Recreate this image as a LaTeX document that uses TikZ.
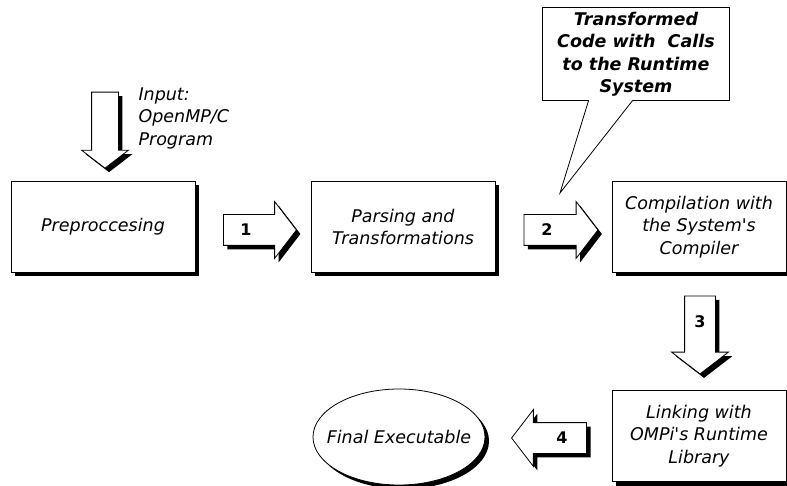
\documentclass[tikz,border=0pt]{standalone}
\usepackage{fontspec}
\setmainfont{DejaVu Sans}
\usetikzlibrary{shapes.arrows,shapes.geometric,shapes.callouts,shadows}
\tikzset{
  blackshadow/.style={drop shadow={fill=black,opacity=1,shadow xshift=4pt,shadow yshift=-4pt}},
  txt/.style={font=\fontsize{17.5}{22.5}\selectfont\itshape},
  stagebox/.style={draw,fill=white,line width=0.8pt,minimum width=184pt,minimum height=91pt,
    align=center,txt,inner sep=2pt,blackshadow},
  blockarrow/.style={single arrow,draw,fill=white,line width=0.8pt,inner sep=15pt,
    single arrow head extend=13pt,single arrow tip angle=105,blackshadow},
  num/.style={font=\fontsize{16}{18}\selectfont\bfseries,inner sep=0pt},
  oval/.style={ellipse,draw,fill=white,line width=0.8pt,minimum width=172pt,minimum height=96pt,
    txt,inner sep=-12pt,blackshadow},
  note/.style={rectangle callout,draw,fill=white,line width=0.8pt,minimum width=187pt,
    minimum height=93pt,inner sep=2pt,align=center,font=\fontsize{17.5}{22.5}\selectfont\bfseries\itshape,
    callout pointer width=44pt}
}
\begin{document}
\begin{tikzpicture}[x=1pt,y=-1pt]
\useasboundingbox (0,0) rectangle (787,486);
% stages
\node[stagebox] (pre) at (103,227) {Preproccesing};
\node[stagebox] (parse) at (403,227) {Parsing and\\Transformations};
\node[stagebox,minimum width=174pt] (comp) at (699,227) {Compilation with\\the System\textquotesingle s\\Compiler};
\node[stagebox,minimum width=174pt] (link) at (699,436) {Linking with\\OMPi\textquotesingle s Runtime\\Library};
\node[oval] (final) at (399,437) {Final Executable};
% input
\node[blockarrow,shape border rotate=270,minimum height=76pt,inner sep=13pt,
  single arrow head extend=10pt] (inarrow) at (105,125) {};
\node[txt,align=left,anchor=west] (intext) at (135,118) {Input:\\OpenMP/C\\Program};
% flow arrows
\node[blockarrow,minimum height=73pt] (a1) at (254,230) {};
\node[num] (n1) at (246,230) {1};
\node[blockarrow,minimum height=74pt] (a2) at (555,230) {};
\node[num] (n2) at (547,230) {2};
\node[blockarrow,shape border rotate=270,minimum height=78pt] (a3) at (700,329) {};
\node[num] (n3) at (700,322) {3};
\node[blockarrow,shape border rotate=180,minimum height=75pt] (a4) at (555,438) {};
\node[num] (n4) at (562,438) {4};
% callout
\coordinate (tip) at (560,193);
\node[note,callout absolute pointer={(tip)}] (call) at (636,54)
  {Transformed\\Code with\ \ Calls\\to the Runtime\\System};
\end{tikzpicture}
\end{document}
